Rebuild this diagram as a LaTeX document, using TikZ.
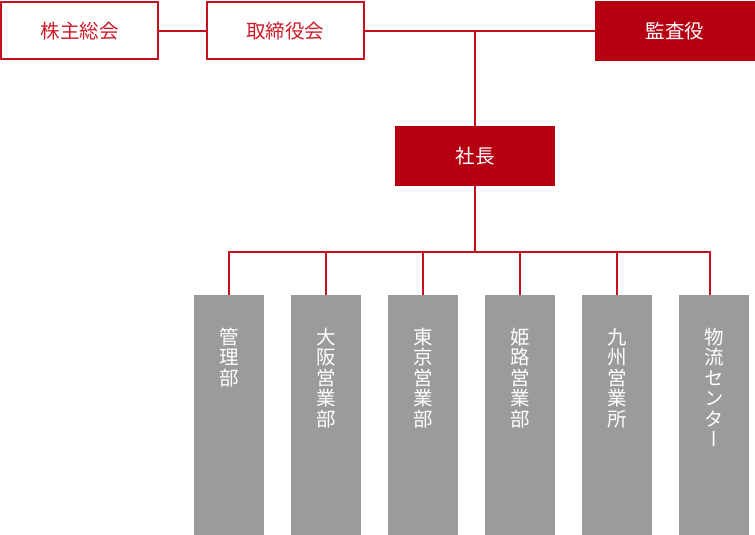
\documentclass[tikz,border=0pt]{standalone}
\usepackage{fontspec}
\newfontfamily\jp{Noto Sans CJK JP}
\newfontfamily\jpv[RawFeature=+vert]{Noto Sans CJK JP}
\definecolor{cred}{RGB}{181,0,18}
\definecolor{cline}{RGB}{196,16,30}
\definecolor{ctext}{RGB}{205,28,40}
\definecolor{cgray}{RGB}{155,155,155}
\tikzset{
  wbox/.style={draw=cline, line width=2pt, fill=white, text=ctext, minimum width=157pt, minimum height=57pt, inner sep=0pt, font=\jp\fontsize{19.5}{20}\selectfont},
  rbox/.style={fill=cred, text=white, minimum width=160pt, minimum height=60pt, inner sep=0pt, font=\jp\fontsize{19.5}{20}\selectfont},
  gbox/.style={fill=cgray, text=white, inner sep=0pt, anchor=north, font=\jpv\fontsize{19.5}{20.5}\selectfont},
  conn/.style={draw=cline, line width=2pt}
}
\newcommand{\vtext}[1]{\parbox[c][240pt][t]{70pt}{\centering\rule{0pt}{49pt}#1}}
\begin{document}
\begin{tikzpicture}[x=1pt,y=-1pt]
\useasboundingbox (0,0) rectangle (755,535);
\node[wbox] (kabu) at (79.5,31) {株主総会};
\node[wbox] (tori) at (285,31) {取締役会};
\node[rbox] (kansa) at (675,31) {監査役};
\node[rbox] (shacho) at (475,156) {社長};
\coordinate (bus) at (475,252);
\node[gbox] (b1) at (229,295) {\vtext{管\\理\\部}};
\node[gbox] (b2) at (326,295) {\vtext{大\\阪\\営\\業\\部}};
\node[gbox] (b3) at (423,295) {\vtext{東\\京\\営\\業\\部}};
\node[gbox] (b4) at (520,295) {\vtext{姫\\路\\営\\業\\部}};
\node[gbox] (b5) at (617,295) {\vtext{九\\州\\営\\業\\所}};
\node[gbox] (b6) at (714,295) {\vtext{物\\流\\セ\\ン\\タ\\ー}};
\coordinate (b6top) at ([xshift=-4pt]b6.north);
\draw[conn] (kabu.east) -- (tori.west);
\draw[conn] (tori.east) -- (kansa.west);
\draw[conn] (shacho.north) -- (shacho.north |- tori.east);
\draw[conn] (shacho.south) -- (bus);
\draw[conn] (b1.north) -- (b1.north |- bus) -- (b6top |- bus) -- (b6top);
\foreach \b in {b2,b3,b4,b5} \draw[conn] (\b.north) -- (\b.north |- bus);
\end{tikzpicture}
\end{document}
